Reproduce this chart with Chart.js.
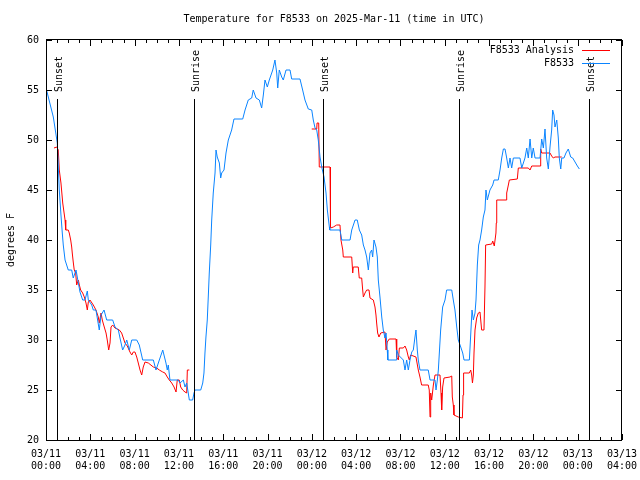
<!DOCTYPE html>
<html>
<head>
<meta charset="utf-8">
<script src="https://cdn.jsdelivr.net/npm/chart.js@4.4.1/dist/chart.umd.min.js"></script>
<style>
  html, body { margin: 0; padding: 0; background: #fff; }
</style>
</head>
<body>
<canvas id="temp-chart" width="640" height="480"></canvas>
<script>
// hours after 03/11 00:00 UTC
var obsHours = [
  0.05,0.66,1.02,1.20,1.35,1.47,1.56,1.72,2.01,2.32,
  2.46,2.71,2.92,3.07,3.31,3.52,3.73,3.82,4.13,4.27,
  4.51,4.81,4.97,5.24,5.48,6.02,6.23,6.53,6.68,6.92,
  7.13,7.29,7.52,7.74,8.19,8.42,8.73,9.69,9.93,10.23,
  10.54,10.83,10.95,11.04,11.19,11.94,12.10,12.40,12.55,12.70,
  12.94,13.24,13.36,13.45,13.97,14.15,14.26,14.35,14.44,14.56,
  14.65,14.74,14.87,14.96,15.10,15.26,15.35,15.46,15.65,15.77,
  15.86,16.07,16.25,16.46,16.76,16.97,17.76,17.97,18.26,18.57,
  18.71,18.96,19.26,19.47,19.62,19.77,19.98,20.16,20.47,20.67,
  20.83,20.92,21.06,21.28,21.42,21.67,22.03,22.18,22.93,23.17,
  23.38,23.68,23.99,24.13,24.29,24.44,24.58,24.74,24.89,25.10,
  25.28,25.40,25.58,25.62,26.54,26.70,27.45,27.60,27.90,28.10,
  28.29,28.50,28.65,28.80,28.95,29.10,29.25,29.40,29.49,29.61,
  29.79,29.91,30.00,30.15,30.31,30.45,30.60,30.70,30.81,30.86,
  31.60,31.66,31.81,32.26,32.41,32.56,32.71,32.86,33.02,33.16,
  33.31,33.40,33.52,33.61,33.76,34.51,34.67,35.12,35.21,35.33,
  35.42,35.51,35.63,35.81,36.02,36.17,36.63,36.77,36.92,37.08,
  37.22,37.44,37.62,37.74,38.22,38.34,38.46,38.58,38.73,38.82,
  38.94,39.06,39.18,39.33,39.48,39.63,39.72,39.84,40.08,40.33,
  40.45,40.83,40.99,41.14,41.29,41.44,41.59,41.74,41.89,42.04,
  42.19,42.79,42.95,43.24,43.40,43.54,43.70,43.85,43.99,44.15,
  44.60,44.75,44.90,45.05,45.20,45.35,45.50,45.65,45.74,45.86,
  45.95,46.11,46.25,46.34,46.47,46.56,46.76,46.94,47.15,47.37,
  47.55,47.76,47.97,48.15
];
var obsTemps = [
  55.0,52.3,49.7,45.0,42.5,40.7,39.5,38.0,37.0,37.0,
  36.2,37.0,35.7,34.8,34.0,34.0,34.9,34.0,33.5,33.0,
  33.0,31.0,32.5,33.0,32.0,32.0,31.3,31.0,30.2,29.0,
  29.5,30.0,29.0,30.0,30.0,29.5,28.0,28.0,27.0,28.0,
  29.0,27.7,27.0,27.5,26.0,26.0,25.7,26.0,25.3,25.7,
  24.0,24.0,24.7,25.0,25.0,25.7,26.7,28.7,30.3,32.0,
  34.3,36.7,39.5,42.0,44.7,46.7,49.0,48.3,47.7,46.2,
  46.7,47.0,48.7,50.0,51.0,52.1,52.1,53.0,54.0,54.2,
  55.0,54.2,54.0,53.2,54.5,56.0,55.3,56.0,57.0,58.0,
  56.7,55.2,57.0,56.3,56.0,57.0,57.0,56.1,56.1,55.0,
  54.0,53.1,53.0,52.0,51.2,51.0,50.0,48.3,47.3,46.3,
  44.7,43.0,41.3,41.0,41.0,40.0,40.0,41.0,42.0,42.0,
  41.0,40.5,39.5,39.0,38.3,37.0,38.7,39.0,38.3,40.0,
  39.3,38.3,36.0,34.3,32.3,31.0,30.2,30.7,29.0,28.0,
  28.0,29.0,28.5,28.0,27.0,28.0,27.0,28.0,28.8,29.0,
  30.3,31.0,29.0,28.0,27.0,27.0,26.0,26.0,25.0,26.0,
  27.0,28.7,31.0,33.3,34.0,35.0,35.0,34.0,33.0,31.3,
  30.0,29.3,28.7,28.0,28.0,30.5,33.0,32.0,32.7,34.0,
  37.5,39.5,40.0,41.0,42.3,43.0,45.0,44.0,45.0,45.5,
  46.0,46.0,47.0,48.2,49.1,49.1,48.2,47.2,48.2,47.2,
  48.2,48.2,47.2,48.2,49.2,48.2,50.1,48.2,49.2,48.2,
  48.2,50.1,49.2,51.1,48.2,47.1,49.3,51.0,53.0,52.5,
  51.3,52.0,50.2,48.2,47.1,48.2,48.2,48.7,49.1,48.3,
  48.2,47.8,47.4,47.1
];

// analysis series; null marks the daytime gap
var anaHours = [
  0.72,0.97,1.11,1.20,1.35,1.51,1.72,1.78,2.01,2.10,
  2.23,2.32,2.37,2.46,2.55,2.68,2.77,2.92,3.01,3.13,
  3.31,3.46,3.61,3.73,3.82,3.97,4.27,4.51,4.72,4.81,
  4.97,5.08,5.26,5.42,5.53,5.66,5.78,5.87,6.02,6.23,
  6.62,6.83,6.98,7.13,7.34,7.58,7.74,7.88,8.03,8.19,
  8.33,8.49,8.64,8.78,8.94,9.24,9.69,9.99,10.23,10.54,
  10.74,10.95,11.13,11.35,11.56,11.74,11.85,12.03,12.16,12.34,
  12.55,12.70,12.76,12.94,13.50,
  23.99,24.44,24.47,24.62,24.67,25.64,25.67,25.70,25.94,26.24,
  26.54,26.63,26.79,26.84,27.60,27.69,27.74,28.19,28.28,28.50,
  28.59,28.65,28.80,28.95,29.16,29.25,29.55,29.70,29.79,29.85,
  29.94,30.06,30.22,30.60,30.70,30.81,30.99,31.60,31.66,31.81,
  31.90,32.26,32.41,32.56,32.71,32.80,32.92,33.40,33.61,33.76,
  33.91,34.51,34.60,34.67,34.73,34.82,34.97,35.12,35.57,35.66,
  35.72,35.81,35.93,36.47,36.63,36.68,36.77,36.83,37.22,37.59,
  37.65,37.70,38.22,38.34,38.43,38.50,38.58,38.64,38.73,38.88,
  39.03,39.18,39.33,39.54,39.63,39.69,40.24,40.33,40.47,40.62,
  40.65,40.69,41.53,41.59,41.74,41.83,42.55,42.64,43.54,43.70,
  43.85,44.60,44.66,44.75,45.50,45.65,45.80,45.95,46.56
];
var anaTemps = [
  49.2,49.3,49.0,47.0,45.7,43.7,42.0,41.0,41.0,40.7,
  40.0,39.3,38.7,37.8,37.0,36.7,35.5,36.0,35.5,35.0,
  34.7,34.3,33.7,33.0,33.8,34.0,33.5,33.0,32.3,31.7,
  32.7,32.0,31.3,30.7,30.0,29.0,29.7,31.3,31.5,31.2,
  31.0,30.7,30.2,29.7,29.4,28.8,28.5,28.8,28.8,28.3,
  27.7,27.0,26.5,27.3,27.8,27.7,27.3,27.2,27.0,26.8,
  26.7,26.3,26.0,25.7,25.3,24.8,26.0,26.0,25.3,25.0,
  24.8,24.7,27.0,27.0,null,
  51.1,51.1,51.7,51.7,47.3,47.3,44.0,41.2,41.3,41.5,
  41.5,40.0,39.0,38.3,38.3,36.7,37.3,37.3,36.2,36.2,
  35.0,34.3,34.7,35.0,35.0,34.2,34.0,33.3,32.5,31.7,
  30.7,30.3,30.7,30.8,29.0,29.8,30.1,30.1,28.3,28.0,
  29.2,29.2,29.4,29.0,28.3,28.0,28.5,28.3,27.0,26.3,
  25.5,25.5,25.0,22.3,24.7,24.0,25.5,26.5,26.5,24.7,
  23.0,25.3,26.2,26.3,26.4,24.3,23.5,22.5,22.3,22.2,
  24.5,26.7,26.7,27.0,26.5,25.7,26.5,28.7,31.0,32.2,
  32.7,32.8,31.0,31.0,35.3,39.5,39.6,39.9,39.4,40.7,
  41.7,44.0,44.0,44.7,45.5,46.0,46.1,47.2,47.2,47.0,
  47.4,47.4,49.1,48.7,48.7,48.4,48.2,48.3,48.3
];

var sunHours = [1.02, 13.39, 25.03, 37.31, 48.99];
var sunLabels = ['Sunset', 'Sunrise', 'Sunset', 'Sunrise', 'Sunset'];

var tickLabels = [
  ['03/11', '00:00'], ['03/11', '04:00'], ['03/11', '08:00'], ['03/11', '12:00'],
  ['03/11', '16:00'], ['03/11', '20:00'], ['03/12', '00:00'], ['03/12', '04:00'],
  ['03/12', '08:00'], ['03/12', '12:00'], ['03/12', '16:00'], ['03/12', '20:00'],
  ['03/13', '00:00'], ['03/13', '04:00']
];

var seriesNames = ['F8533 Analysis', 'F8533'];
var seriesColors = ['#ff0000', '#0a84ff'];
var titleText = 'Temperature for F8533 on 2025-Mar-11 (time in UTC)';
var FONT = '10px "DejaVu Sans Mono"';

function toPoints(hours, temps) {
  return hours.map(function (h, i) { return { x: h, y: temps[i] }; });
}

// gnuplot style frame: inward ticks, sun markers, key and title
var gnuplotLook = {
  id: 'gnuplotLook',
  afterDatasetsDraw: function (chart) {
    var ctx = chart.ctx, a = chart.chartArea;
    var xs = chart.scales.x, ys = chart.scales.y;
    ctx.save();
    ctx.strokeStyle = '#000';
    ctx.fillStyle = '#000';
    ctx.lineWidth = 1;
    ctx.font = FONT;

    // sunrise / sunset lines
    sunHours.forEach(function (h, i) {
      var px = Math.round(xs.getPixelForValue(h)) + 0.5;
      ctx.beginPath();
      ctx.moveTo(px, a.top + 59);
      ctx.lineTo(px, a.bottom);
      ctx.stroke();
      ctx.save();
      ctx.translate(px + 1.5, a.top + 52);
      ctx.rotate(-Math.PI / 2);
      ctx.textAlign = 'left';
      ctx.textBaseline = 'middle';
      ctx.fillText(sunLabels[i], 0, 0);
      ctx.restore();
    });

    // border
    ctx.strokeRect(a.left + 0.5, a.top - 0.5, a.right - a.left - 1, a.bottom - a.top + 1);

    // x ticks: major every 4 h, minor every hour
    ctx.beginPath();
    for (var h = xs.min; h <= xs.max; h++) {
      var px = Math.round(xs.getPixelForValue(h)) + 0.5;
      var len = (h % 4 === 0) ? 6 : 3;
      ctx.moveTo(px, a.bottom); ctx.lineTo(px, a.bottom - len);
      ctx.moveTo(px, a.top); ctx.lineTo(px, a.top + len);
    }
    ys.ticks.forEach(function (t) {
      var py = Math.round(ys.getPixelForValue(t.value)) + 0.5;
      ctx.moveTo(a.left, py); ctx.lineTo(a.left + 6, py);
      ctx.moveTo(a.right, py); ctx.lineTo(a.right - 6, py);
    });
    ctx.stroke();

    // key
    ctx.textAlign = 'right';
    ctx.textBaseline = 'middle';
    seriesNames.forEach(function (name, i) {
      var y = a.top + 10 + i * 13;
      ctx.fillText(name, 574, y);
      ctx.strokeStyle = seriesColors[i];
      ctx.beginPath();
      ctx.moveTo(582, y + 0.5);
      ctx.lineTo(610, y + 0.5);
      ctx.stroke();
    });

    // title
    ctx.textAlign = 'center';
    ctx.fillText(titleText, (a.left + a.right) / 2, 19);
    ctx.restore();
  }
};

var ctx = document.getElementById('temp-chart').getContext('2d');
var chart = new Chart(ctx, {
  type: 'line',
  data: {
    datasets: [{
      label: seriesNames[0],
      data: toPoints(anaHours, anaTemps),
      borderColor: seriesColors[0],
      borderWidth: 1,
      pointRadius: 0,
      spanGaps: false,
      order: 1
    }, {
      label: seriesNames[1],
      data: toPoints(obsHours, obsTemps),
      borderColor: seriesColors[1],
      borderWidth: 1,
      pointRadius: 0,
      order: 0
    }]
  },
  options: {
    responsive: false,
    animation: false,
    events: [],
    devicePixelRatio: 1,
    layout: { padding: { top: 40, right: 18, bottom: 0, left: 0 } },
    plugins: {
      legend: { display: false },
      title: { display: false },
      tooltip: { enabled: false }
    },
    scales: {
      x: {
        type: 'linear',
        min: 0,
        max: 52,
        grid: { display: false, drawTicks: false },
        border: { display: false },
        afterFit: function (scale) {
          scale.height = 40;
          scale.paddingLeft = 0;
          scale.paddingRight = 0;
        },
        ticks: {
          stepSize: 4,
          autoSkip: false,
          maxRotation: 0,
          padding: 8,
          color: '#000',
          font: { family: 'DejaVu Sans Mono', size: 10 },
          callback: function (value) { return tickLabels[Math.round(value / 4)]; }
        }
      },
      y: {
        min: 20,
        max: 60,
        grid: { display: false, drawTicks: false },
        border: { display: false },
        afterFit: function (scale) {
          scale.width = 46;
          scale.paddingTop = 0;
          scale.paddingBottom = 0;
        },
        title: {
          display: true,
          text: 'degrees F',
          color: '#000',
          font: { family: 'DejaVu Sans Mono', size: 10 },
          padding: { top: 5, bottom: 0 }
        },
        ticks: {
          stepSize: 5,
          padding: 7,
          color: '#000',
          font: { family: 'DejaVu Sans Mono', size: 10 }
        }
      }
    }
  },
  plugins: [gnuplotLook]
});
</script>
</body>
</html>
